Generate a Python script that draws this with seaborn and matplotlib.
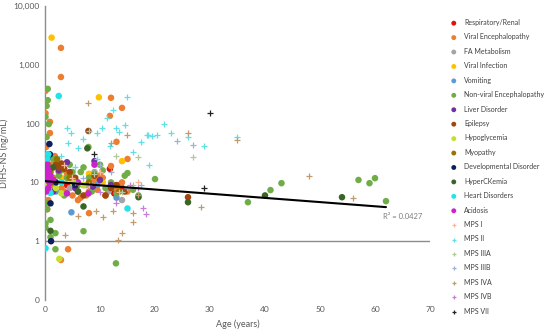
import numpy as np
import pandas as pd
import matplotlib
matplotlib.use("Agg")
import matplotlib.pyplot as plt
import seaborn as sns

# ---------------- data ----------------
categories = ["Respiratory/Renal", "Viral Encephalopathy", "FA Metabolism", "Viral Infection",
              "Vomiting", "Non-viral Encephalopathy", "Liver Disorder", "Epilepsy", "Hypoglycemia",
              "Myopathy", "Developmental Disorder", "HyperCKemia", "Heart Disorders", "Acidosis",
              "MPS I", "MPS II", "MPS IIIA", "MPS IIIB", "MPS IVA", "MPS IVB", "MPS VII"]

resp_age = [0.3, 1.0, 4.0, 11.8, 12.6, 14.0, 0.6]
resp_val = [8, 12, 9, 17, 6.5, 8, 15]

viral_enc_age = [2.9, 2.9, 0.1, 12.0, 14.0, 11.8, 0.9, 0.9, 0.1, 13.0, 15.0, 4.2, 2.9, 8.0, 0.2, 0.5,
                 1.0, 1.5, 2.0, 3.0, 4.0, 5.0, 6.0, 7.0, 8.0, 9.0, 10.0, 11.0, 12.0, 13.0, 14.0, 15.0,
                 0.3, 1.2, 2.5, 3.5, 5.5, 6.5, 8.5, 10.5, 7.5, 13.5, 1.8, 9.5, 0.4, 0.6]
viral_enc_val = [1940, 620, 360, 275, 185, 135, 107, 69, 150, 49, 25, 0.73, 0.48, 3, 40, 30,
                 20, 12, 25, 8, 14, 6, 5, 9, 7, 11, 13, 6, 19, 8, 10, 7,
                 18, 9, 15, 7, 10, 5.5, 8, 12, 6, 9, 28, 7.5, 3.5, 5]

fa_age = [1.0, 4.5, 9.0, 11.5, 7.5, 2.0, 14.0]
fa_val = [10, 8, 15, 7, 9, 25, 5]

viral_inf_age = [1.2, 9.8, 14.0, 3.0, 5.5, 8.0, 1.5, 10.5, 4.0]
viral_inf_val = [2900, 280, 23, 12, 9, 14, 18, 10, 11.8]

vomit_age = [4.8, 8.0, 13.0, 0.5, 9.5, 2.0]
vomit_val = [3.1, 10, 5.5, 18, 9, 7]

nonviral_age = [20, 36.9, 41, 43, 57, 59, 60, 62, 0.1, 0.1, 1.0, 1.9, 1.0, 1.9, 7.0, 12.9,
                0.5, 0.5, 0.3, 0.1, 0.7, 0.3, 7.9, 10, 2.0, 3.0, 4.0, 5.0, 6.0, 7.0, 8.0, 9.0,
                11.0, 12.0, 13.0, 14.5, 15.0, 16.0, 17.0, 0.8, 1.5, 2.5, 3.5, 4.5, 5.5, 6.5,
                8.5, 10.5, 12.5, 0.2, 0.4]
nonviral_val = [11.4, 4.6, 7.4, 9.7, 11, 9.7, 11.8, 4.8, 2.0, 1.7, 2.3, 1.37, 1.17, 0.73, 1.48, 0.42,
                390, 250, 200, 130, 98, 59, 40, 20, 22, 16, 12, 15, 9, 18, 12, 14,
                8, 10, 6.5, 13, 14.4, 7.5, 6, 9, 25, 13, 6, 20, 11, 15,
                7, 16, 9, 4.5, 3.5]

liver_age = [9.0, 0.3, 2.5, 5.5, 8.7, 12.0, 1.5, 4.0, 10.0]
liver_val = [23, 12, 16, 8, 8.5, 9, 7, 22, 11]

epilepsy_age = [7.9, 26, 2.0, 2.5, 3.0, 3.5, 0.5, 1.0, 6.0, 7.0, 9.0, 11.0, 13.0, 4.5, 5.5, 12.0, 14.5]
epilepsy_val = [75, 5.6, 20, 18, 21, 17, 13, 10, 7, 6, 13, 6, 9, 15, 12, 8, 7]

hypo_age = [2.6, 0.3, 1.0, 2.0, 3.0, 5.0, 7.0, 0.8]
hypo_val = [0.5, 9, 12, 8, 6.5, 10, 9, 7]

myo_age = [0.5, 1.0, 1.5, 4.5, 8.0, 13.5, 2.2]
myo_val = [20, 15, 11, 12, 10, 7, 25]

dev_age = [1.1, 0.8, 0.9, 0.2, 1.0, 0.4, 2.0, 5.5]
dev_val = [1.0, 45, 30, 15, 4.4, 25, 10, 9]

hyperck_age = [26, 54, 40, 1.0, 7.7, 17, 6.0, 1.5, 7.0]
hyperck_val = [4.6, 5.6, 6, 1.5, 38, 5.6, 7, 18, 3.9]

heart_age = [2.5, 0.1, 15, 0.1, 0.4, 1.0, 0.3, 0.6, 3.0]
heart_val = [295, 0.76, 3.6, 22, 25, 6.6, 15, 30, 10]

acid_age = [0.1, 0.2, 0.3, 0.5, 0.8, 1.0, 0.4, 0.6, 1.5, 6.0, 9.0, 4.0, 0.2, 0.7, 7.9]
acid_val = [14, 18, 12, 17, 10, 13, 20, 8, 11, 10, 20, 6.5, 7, 15, 6.5]

mps1_age = [5, 8, 10, 13.5, 3.5, 17]
mps1_val = [12, 9, 15, 7, 20, 10]

mps2_age = [15, 18.8, 20.4, 19.5, 21.6, 22.9, 26, 28.9, 34.9, 18.9, 11.2, 12.3, 4.0, 4.8, 4.2,
            9.4, 10.3, 13.0, 13.5, 18.5, 11.8, 16.0, 17.5, 6.0, 9.5, 3.0, 5.5, 7.0, 14.5, 8.0]
mps2_val = [285, 64, 64, 62, 98, 69, 59, 41, 59, 20, 125, 170, 84, 69, 47,
            69, 84, 84, 72, 64, 42, 33, 48, 38, 25, 28, 18, 55, 95, 75]

mps3a_age = [27, 14, 16, 9, 5.5, 13, 17]
mps3a_val = [27, 7, 9, 14, 10, 28, 27]

mps3b_age = [24, 27, 10, 7, 15, 17.5, 12]
mps3b_val = [50, 43, 20, 12, 8, 9, 15]

mps4a_age = [28.3, 7.9, 26, 35, 13.3, 14.0, 16, 16, 10.6, 9.3, 12.3, 6.0, 3.6, 48, 56, 12, 15, 17]
mps4a_val = [3.8, 225, 69, 52, 1.04, 1.37, 2.1, 3.0, 2.6, 3.2, 3.2, 2.7, 1.26, 12.8, 5.4, 47, 64, 6]

mps4b_age = [17.9, 18.3, 13, 15.5, 10, 17]
mps4b_val = [3.6, 2.9, 4.4, 9, 7, 8]

mps7_age = [30, 29, 9]
mps7_val = [150, 8, 30]

ages = [resp_age, viral_enc_age, fa_age, viral_inf_age, vomit_age, nonviral_age, liver_age,
        epilepsy_age, hypo_age, myo_age, dev_age, hyperck_age, heart_age, acid_age,
        mps1_age, mps2_age, mps3a_age, mps3b_age, mps4a_age, mps4b_age, mps7_age]
vals = [resp_val, viral_enc_val, fa_val, viral_inf_val, vomit_val, nonviral_val, liver_val,
        epilepsy_val, hypo_val, myo_val, dev_val, hyperck_val, heart_val, acid_val,
        mps1_val, mps2_val, mps3a_val, mps3b_val, mps4a_val, mps4b_val, mps7_val]

# exponential trend line: y = a * exp(b * x)
trend_a = 10.5
trend_b = -0.0164
trend_xmax = 62
r2_text = "R\u00b2 = 0.0427"

y_ticks = [0.1, 1, 10, 100, 1000, 10000]
y_ticklabels = ["0", "1", "10", "100", "1,000", "10,000"]
x_ticks = [0, 10, 20, 30, 40, 50, 60, 70]

# ---------------- style ----------------
colors = ["#E01010", "#ED7D31", "#A5A5A5", "#FFC000", "#5B9BD5", "#70AD47", "#7030A0",
          "#9E480E", "#C5E02A", "#997300", "#0D1F5C", "#3B6526", "#22E3E8", "#CC22CC",
          "#F4B896", "#5FE0E6", "#B5C79A", "#9DB0D8", "#C39A6B", "#C87ED8", "#222222"]
markers = ["o"] * 14 + ["+"] * 7

sns.set_style("white")
plt.rcParams["font.family"] = ["Lato", "DejaVu Sans"]

fig = plt.figure(figsize=(5.5, 3.32), dpi=100)
ax = fig.add_axes([0.0818, 0.0964, 0.700, 0.8855])

frames = []
for cat, a, v in zip(categories, ages, vals):
    frames.append(pd.DataFrame({"age": a, "val": v, "cat": cat}))
df = pd.concat(frames, ignore_index=True)

for cat, col, mk in zip(categories, colors, markers):
    sub = df[df["cat"] == cat]
    if mk == "o":
        sns.scatterplot(data=sub, x="age", y="val", color=col, marker="o", s=22,
                        edgecolor="none", linewidth=0, ax=ax, label=cat, zorder=3)
    else:
        sns.scatterplot(data=sub, x="age", y="val", color=col, marker="+", s=20,
                        linewidth=0.9, ax=ax, label=cat, zorder=4)

# trend line
tx = np.linspace(0, trend_xmax, 200)
sns.lineplot(x=tx, y=trend_a * np.exp(trend_b * tx), color="black", linewidth=1.5,
             ax=ax, zorder=5, legend=False)
ax.text(61.5, 2.6, r2_text, fontsize=5.5, color="#7f7f7f", va="center", ha="left")

ax.set_yscale("log")
ax.set_xlim(0, 70)
ax.set_ylim(0.1, 10000)
ax.set_yticks(y_ticks)
ax.set_yticklabels(y_ticklabels)
ax.yaxis.set_minor_locator(matplotlib.ticker.NullLocator())
ax.set_xticks(x_ticks)
ax.set_xticklabels([str(t) for t in x_ticks])
ax.tick_params(axis="both", length=0, labelsize=6, labelcolor="#595959", pad=4)

# axis lines: vertical axis at x=0, horizontal axis crossing at y=1
for sp in ["top", "right", "bottom"]:
    ax.spines[sp].set_visible(False)
ax.spines["left"].set_color("#8c8c8c")
ax.spines["left"].set_linewidth(1.0)
ax.axhline(1, color="#8c8c8c", linewidth=1.0, zorder=2)

ax.set_xlabel("Age (years)", fontsize=6.5, color="#595959", labelpad=5)
ax.set_ylabel("DIHS-NS (ng/mL)", fontsize=6.5, color="#595959")
ax.yaxis.set_label_coords(-36 / 385, 0.5)

handles, labels = ax.get_legend_handles_labels()
if ax.legend_:
    ax.legend_.remove()
leg = fig.legend(handles, labels, loc="upper left", bbox_to_anchor=(451 / 550, 1 - 19 / 332),
                 frameon=False, fontsize=5.0, handlelength=0.8, handletextpad=1.1,
                 labelspacing=1.07, borderpad=0, borderaxespad=0, markerscale=0.75)
for t in leg.get_texts():
    t.set_color("#404040")

fig.savefig("out.png", dpi=100)
